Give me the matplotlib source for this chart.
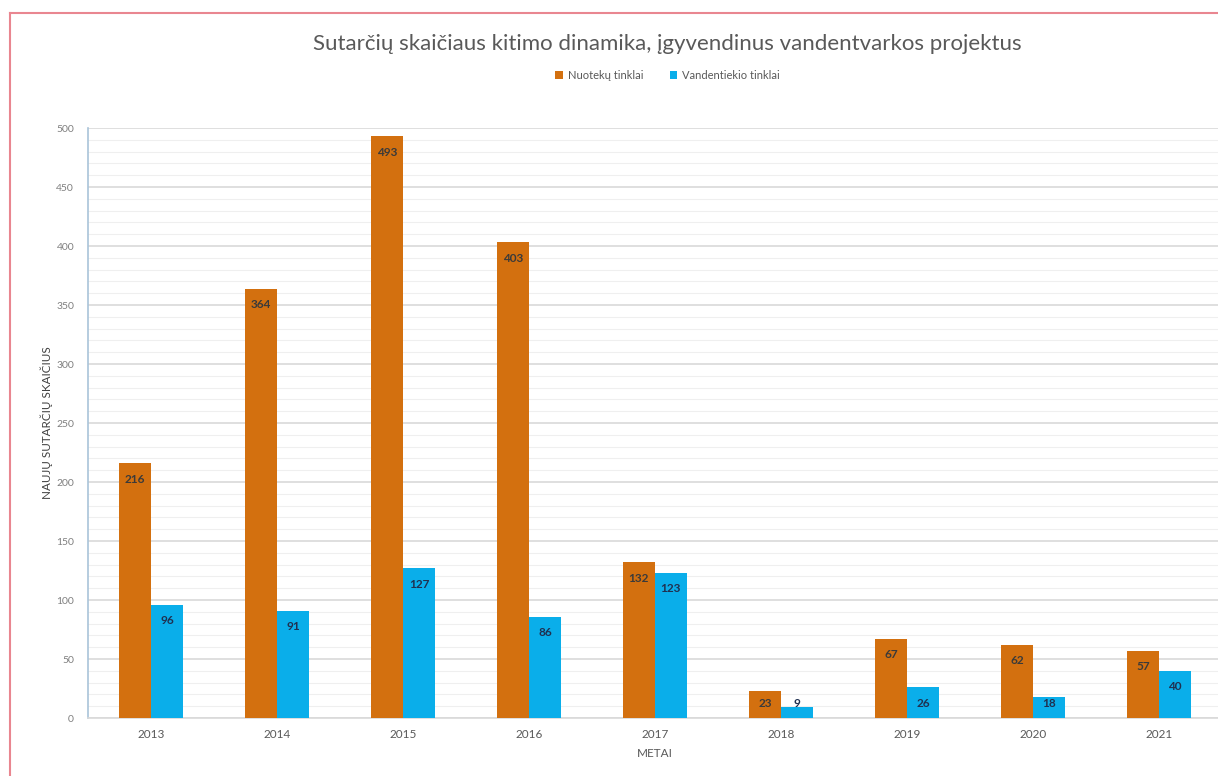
import matplotlib.pyplot as plt
import numpy as np
from matplotlib.lines import Line2D

plt.rcParams['font.family'] = ['Lato', 'DejaVu Sans']

years = ["2013", "2014", "2015", "2016", "2017", "2018", "2019", "2020", "2021"]
nuoteku = [216, 364, 493, 403, 132, 23, 67, 62, 57]
vandentiekio = [96, 91, 127, 86, 123, 9, 26, 18, 40]

orange = "#D3700F"
blue = "#0AAEEA"

fig = plt.figure(figsize=(12.18, 7.76), dpi=100)
ax = fig.add_axes([0.0722, 0.0747, 0.931, 0.7603])

x = np.arange(len(years))
w = 0.254
b1 = ax.bar(x - w / 2, nuoteku, w, color=orange, label="Nuotekų tinklai", zorder=3)
b2 = ax.bar(x + w / 2, vandentiekio, w, color=blue, label="Vandentiekio tinklai", zorder=3)

# value labels just inside the top of each bar (kept off the axis for tiny bars)
for bars, vals, col in [(b1, nuoteku, "#3a3a3a"), (b2, vandentiekio, "#203050")]:
    for r, v in zip(bars, vals):
        ax.text(r.get_x() + r.get_width() / 2, max(v - 13.5, 12.5), str(v),
                ha="center", va="center", fontsize=8.5, fontweight="bold",
                color=col, zorder=4)

ax.set_xlim(-0.5, len(years) - 0.5)
ax.set_ylim(0, 500)
ax.set_yticks(np.arange(0, 501, 50))
ax.set_yticks(np.arange(0, 501, 10), minor=True)
ax.grid(axis="y", which="major", color="#D9D9D9", linewidth=1.2, zorder=0)
ax.grid(axis="y", which="minor", color="#EFEFEF", linewidth=0.8, zorder=0)
ax.tick_params(axis="y", which="both", length=0, labelsize=7.5, labelcolor="#7F7F7F", pad=10)
ax.tick_params(axis="x", length=0, labelsize=8.5, labelcolor="#595959", pad=8)
ax.set_xticks(x)
ax.set_xticklabels(years)

for s in ["top", "right"]:
    ax.spines[s].set_visible(False)
ax.spines["left"].set_color("#A9C4D9")
ax.spines["left"].set_linewidth(1.2)
ax.spines["bottom"].set_color("#D9D9D9")
ax.spines["bottom"].set_linewidth(1.2)

ax.set_ylabel("NAUJŲ SUTARČIŲ SKAIČIUS", fontsize=8.4, color="#404040")
ax.yaxis.set_label_coords(-0.031, 0.5)
ax.set_xlabel("METAI", fontsize=8.5, color="#595959", labelpad=6)

fig.text(0.548, 0.943, "Sutarčių skaičiaus kitimo dinamika, įgyvendinus vandentvarkos projektus",
         ha="center", va="center", fontsize=16, color="#595959")

fig.legend(handles=[b1, b2], loc="center", bbox_to_anchor=(0.548, 0.903), ncol=2,
           frameon=False, fontsize=8, handlelength=0.7, handleheight=0.7,
           columnspacing=2.4, handletextpad=0.4, labelcolor="#595959")

# pinkish frame around the screenshot region
fig.add_artist(Line2D([10 / 1218, 1.0], [1 - 13 / 776, 1 - 13 / 776],
                      transform=fig.transFigure, color="#E98690", linewidth=1.5))
fig.add_artist(Line2D([10 / 1218, 10 / 1218], [0, 1 - 13 / 776],
                      transform=fig.transFigure, color="#E98690", linewidth=1.5))

plt.savefig("out.png", dpi=100)
